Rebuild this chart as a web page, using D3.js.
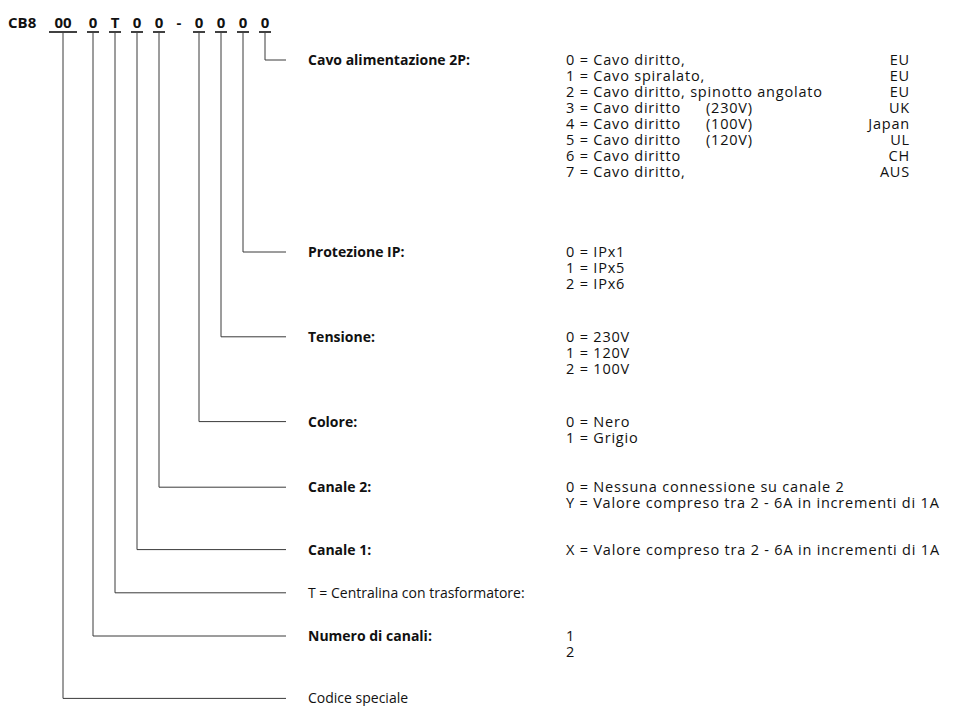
<!DOCTYPE html>
<html>
<head>
<meta charset="utf-8">
<script src="https://cdn.jsdelivr.net/npm/d3@7"></script>
<style>
  body { margin: 0; background: #fff; }
  svg text { font-family: "Open Sans", "Noto Sans", sans-serif; fill: #111; }
  .bold { font-weight: 700; }
  .lbl { font-size: 14px; }
  .val { font-size: 14.5px; letter-spacing: 0.8px; }
</style>
</head>
<body>
<div id="display"></div>
<script>
// code string pieces, left to right
const codePrefix = "CB8";
const codeParts = ["00", "0", "T", "0", "0", "-", "0", "0", "0", "0"];
// which description each code piece points to (null = separator)
const codeTarget = [8, 7, 6, 5, 4, null, 3, 2, 1, 0];

// descriptions, top to bottom
const labels = [
  "Cavo alimentazione 2P:",
  "Protezione IP:",
  "Tensione:",
  "Colore:",
  "Canale 2:",
  "Canale 1:",
  "T = Centralina con trasformatore:",
  "Numero di canali:",
  "Codice speciale"
];
const labelBold = [true, true, true, true, true, true, false, true, false];

const cavoOptions = [
  "0 = Cavo diritto,",
  "1 = Cavo spiralato,",
  "2 = Cavo diritto, spinotto angolato",
  "3 = Cavo diritto",
  "4 = Cavo diritto",
  "5 = Cavo diritto",
  "6 = Cavo diritto",
  "7 = Cavo diritto,"
];
const cavoVoltage = ["", "", "", "(230V)", "(100V)", "(120V)", "", ""];
const cavoRegion = ["EU", "EU", "EU", "UK", "Japan", "UL", "CH", "AUS"];
const ipOptions = ["0 = IPx1", "1 = IPx5", "2 = IPx6"];
const tensioneOptions = ["0 = 230V", "1 = 120V", "2 = 100V"];
const coloreOptions = ["0 = Nero", "1 = Grigio"];
const canale2Options = ["0 = Nessuna connessione su canale 2", "Y = Valore compreso tra 2 - 6A in incrementi di 1A"];
const canale1Options = ["X = Valore compreso tra 2 - 6A in incrementi di 1A"];
const numeroOptions = ["1", "2"];
const optionLists = [cavoOptions, ipOptions, tensioneOptions, coloreOptions, canale2Options, canale1Options, [], numeroOptions, []];

// layout: where each description block starts, in text-line units
const rowStart = [0, 12, 17.3, 22.6, 26.7, 30.6, 33.3, 36, 39.9];

const width = 965, height = 706;
const svg = d3.select("#display").append("svg")
  .attr("width", width)
  .attr("height", height);

const y = d3.scaleLinear().domain([0, 1]).range([60, 76]);

// horizontal placement of the code pieces from their character counts
const charW = 16, gap = 6, dashW = 12;
let acc = 0;
const centers = codeParts.map(p => {
  const w = p === "-" ? dashW : p.length * charW;
  const c = acc + w / 2;
  acc += w + gap;
  return c;
});
const x = d3.scaleLinear().domain([0, acc]).range([47, 47 + acc]);

const codeBaseline = 28, underlineY = 32;
const lineEnd = 286, labelX = 308, valueX = 566, voltX = 706, regionX = 910;

svg.append("text")
  .attr("class", "bold")
  .attr("x", 8).attr("y", codeBaseline)
  .attr("font-size", 15)
  .text(codePrefix);

const parts = svg.append("g").selectAll("g")
  .data(codeParts.map((p, i) => ({ p, i, cx: x(centers[i]), target: codeTarget[i] })))
  .join("g");

parts.append("text")
  .attr("class", "bold")
  .attr("x", d => d.cx).attr("y", codeBaseline)
  .attr("text-anchor", "middle")
  .attr("font-size", 15)
  .text(d => d.p);

parts.filter(d => d.target !== null).append("line")
  .attr("x1", d => d.cx - (d.p.length * 12 + (d.p.length - 1) * 4) / 2)
  .attr("x2", d => d.cx + (d.p.length * 12 + (d.p.length - 1) * 4) / 2)
  .attr("y1", underlineY).attr("y2", underlineY)
  .attr("stroke", "#111").attr("stroke-width", 1.6);

parts.filter(d => d.target !== null).append("path")
  .attr("d", d => {
    const ty = y(rowStart[d.target]);
    return `M${d.cx},${underlineY + 1}V${ty}H${lineEnd}`;
  })
  .attr("fill", "none")
  .attr("stroke", "#3a3a3a")
  .attr("stroke-width", 1);

// description blocks
const blocks = svg.append("g").selectAll("g")
  .data(labels.map((l, i) => ({ l, i, bold: labelBold[i], opts: optionLists[i] })))
  .join("g");

blocks.append("text")
  .attr("class", d => d.bold ? "lbl bold" : "lbl")
  .attr("x", labelX)
  .attr("y", d => y(rowStart[d.i]) + 5)
  .text(d => d.l);

blocks.selectAll("text.val")
  .data(d => d.opts.map((o, k) => ({ o, k, i: d.i })))
  .join("text")
  .attr("class", "val")
  .attr("x", valueX)
  .attr("y", d => y(rowStart[d.i] + d.k) + 5)
  .text(d => d.o);

// extra columns for the power cable
svg.append("g").selectAll("text")
  .data(cavoVoltage)
  .join("text")
  .attr("class", "val")
  .attr("x", voltX)
  .attr("y", (d, k) => y(rowStart[0] + k) + 5)
  .text(d => d);

svg.append("g").selectAll("text")
  .data(cavoRegion)
  .join("text")
  .attr("class", "val")
  .attr("x", regionX)
  .attr("y", (d, k) => y(rowStart[0] + k) + 5)
  .attr("text-anchor", "end")
  .text(d => d);
</script>
</body>
</html>
